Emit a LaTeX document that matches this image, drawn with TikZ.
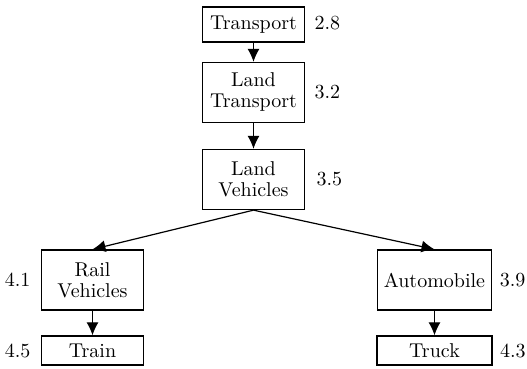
\documentclass[tikz,border=0pt]{standalone}
\usepackage{amsmath}
\usetikzlibrary{arrows.meta}
\usetikzlibrary{calc}

\begin{document}
\begin{tikzpicture}[x=0.5pt,y=-0.5pt,
    every node/.style={black},
    box/.style={draw,line width=0.65pt,minimum width=51pt,align=center},
    val/.style={inner sep=0pt},
    arr/.style={-{Latex[length=6.5pt,width=6pt]},line width=0.6pt}]
    \useasboundingbox (0,0) rectangle (527,369);

    \node[box,minimum height=17.5pt] (tr) at (253.5,24.5) {Transport};
    \node[box,minimum height=30pt] (landtr) at (253.5,92.5) {Land\\[-1.5pt]Transport};
    \node[box,minimum height=30pt] (landveh) at (253.5,179.5) {Land\\[-1.5pt]Vehicles};
    \node[box,minimum height=30pt] (rail) at (92.5,280) {Rail\\[-1.5pt]Vehicles};
    \node[box,minimum height=30pt] (auto) at (434.5,280) {Automobile};
    \node[box,minimum height=14.5pt] (train) at (92.5,350.5) {Train};
    \node[box,minimum height=14.5pt,minimum width=57.5pt] (truck) at (434.5,350.5) {Truck};

    \node[val,anchor=base west] (v28) at ([xshift=4.5pt]tr.base east) {2.8};
    \node[val,anchor=west] (v32) at ([xshift=4.5pt]landtr.east) {3.2};
    \node[val,anchor=west] (v35) at ([xshift=5.5pt]landveh.east) {3.5};
    \node[val,anchor=east] (v41) at ([xshift=-5pt]rail.west) {4.1};
    \node[val,anchor=base east] (v45) at ([xshift=-5pt]train.base west) {4.5};
    \node[val,anchor=west] (v39) at ([xshift=3.5pt]auto.east) {3.9};
    \node[val,anchor=base west] (v43) at ([xshift=3.5pt]truck.base east) {4.3};

    \draw[arr] (tr.south) -- (landtr.north);
    \draw[arr] (landtr.south) -- (landveh.north);
    \draw[arr] (landveh.south) -- (rail.north);
    \draw[arr] (landveh.south) -- (auto.north);
    \draw[arr] (rail.south) -- (train.north);
    \draw[arr] (auto.south) -- (truck.north);
\end{tikzpicture}
\end{document}
